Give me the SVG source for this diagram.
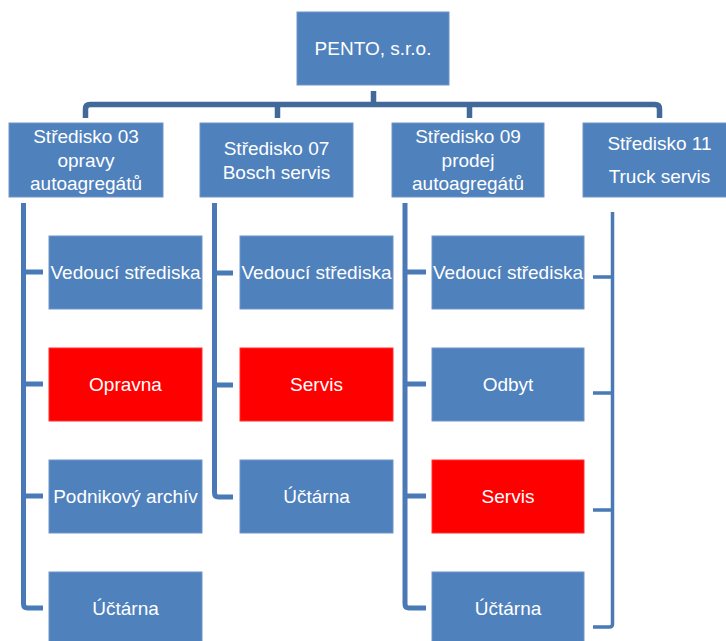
<svg xmlns="http://www.w3.org/2000/svg" width="726" height="641" viewBox="0 0 726 641">
<style>
.b{fill:#4F81BD;stroke:#6E95C9;stroke-width:1}
.r{fill:#FF0000;stroke:#FF3030;stroke-width:1}
text{font-family:"Liberation Sans",Arial,sans-serif;font-size:19px;fill:#FFFFFF;text-anchor:middle}
.bus{fill:none;stroke:#41699A;stroke-width:5.5;stroke-linejoin:round}
.col{fill:none;stroke:#4A7AB5;stroke-width:5;stroke-linejoin:round}
.col4{fill:none;stroke:#4A7AB5;stroke-width:3.5;stroke-linejoin:round}
</style>
<rect width="726" height="641" fill="#FFFFFF"/>
<g id="connectors">
<path class="bus" d="M373.5,91 V104.5 M85.5,118 V109 Q85.5,104.5 90,104.5 H655 Q659.5,104.5 659.5,109 V118 M277.5,104.5 V118 M469.5,104.5 V118"/>
<path class="col" d="M23.5,203 V604 Q23.5,608 27.5,608 H43 M23.5,272 H43 M23.5,384 H43 M23.5,496 H43"/>
<path class="col" d="M214.5,203 V493 Q214.5,497 218.5,497 H233 M214.5,273 H233 M214.5,385 H233"/>
<path class="col" d="M405,203 V604 Q405,608 409,608 H426 M405,272 H426 M405,384 H426 M405,496 H426"/>
<path class="col4" d="M612.5,212 V624 Q612.5,627 609.5,627 H593 M612.5,277 H593 M612.5,393 H593 M612.5,510 H593"/>
</g>
<g id="root"><rect class="b" x="297" y="12" width="152" height="73"/><text x="373" y="55">PENTO, s.r.o.</text></g>
<g id="s03"><rect class="b" x="9" y="123" width="154" height="74"/><text x="86" y="143">Středisko 03</text><text x="86" y="166.5">opravy</text><text x="86" y="190">autoagregátů</text></g>
<g id="s07"><rect class="b" x="200" y="123" width="153" height="74"/><text x="276.5" y="155">Středisko 07</text><text x="276.5" y="178.5">Bosch servis</text></g>
<g id="s09"><rect class="b" x="392" y="123" width="152" height="74"/><text x="468" y="143">Středisko 09</text><text x="468" y="166.5">prodej</text><text x="468" y="190">autoagregátů</text></g>
<g id="s11"><rect class="b" x="583" y="123" width="153" height="74"/><text x="659.5" y="150">Středisko 11</text><text x="659.5" y="183">Truck servis</text></g>
<g id="c1-vedouci"><rect class="b" x="49" y="236" width="153" height="73"/><text x="125.5" y="279">Vedoucí střediska</text></g>
<g id="c1-opravna"><rect class="r" x="49" y="348" width="153" height="73"/><text x="125.5" y="391">Opravna</text></g>
<g id="c1-archiv"><rect class="b" x="49" y="460" width="153" height="73"/><text x="125.5" y="503">Podnikový archív</text></g>
<g id="c1-uctarna"><rect class="b" x="49" y="572" width="153" height="73"/><text x="125.5" y="615">Účtárna</text></g>
<g id="c2-vedouci"><rect class="b" x="240" y="236" width="153" height="73"/><text x="316.5" y="279">Vedoucí střediska</text></g>
<g id="c2-servis"><rect class="r" x="240" y="348" width="153" height="73"/><text x="316.5" y="391">Servis</text></g>
<g id="c2-uctarna"><rect class="b" x="240" y="460" width="153" height="73"/><text x="316.5" y="503">Účtárna</text></g>
<g id="c3-vedouci"><rect class="b" x="432" y="236" width="152" height="73"/><text x="508" y="279">Vedoucí střediska</text></g>
<g id="c3-odbyt"><rect class="b" x="432" y="348" width="152" height="73"/><text x="508" y="391">Odbyt</text></g>
<g id="c3-servis"><rect class="r" x="432" y="460" width="152" height="73"/><text x="508" y="503">Servis</text></g>
<g id="c3-uctarna"><rect class="b" x="432" y="572" width="152" height="73"/><text x="508" y="615">Účtárna</text></g>
</svg>
